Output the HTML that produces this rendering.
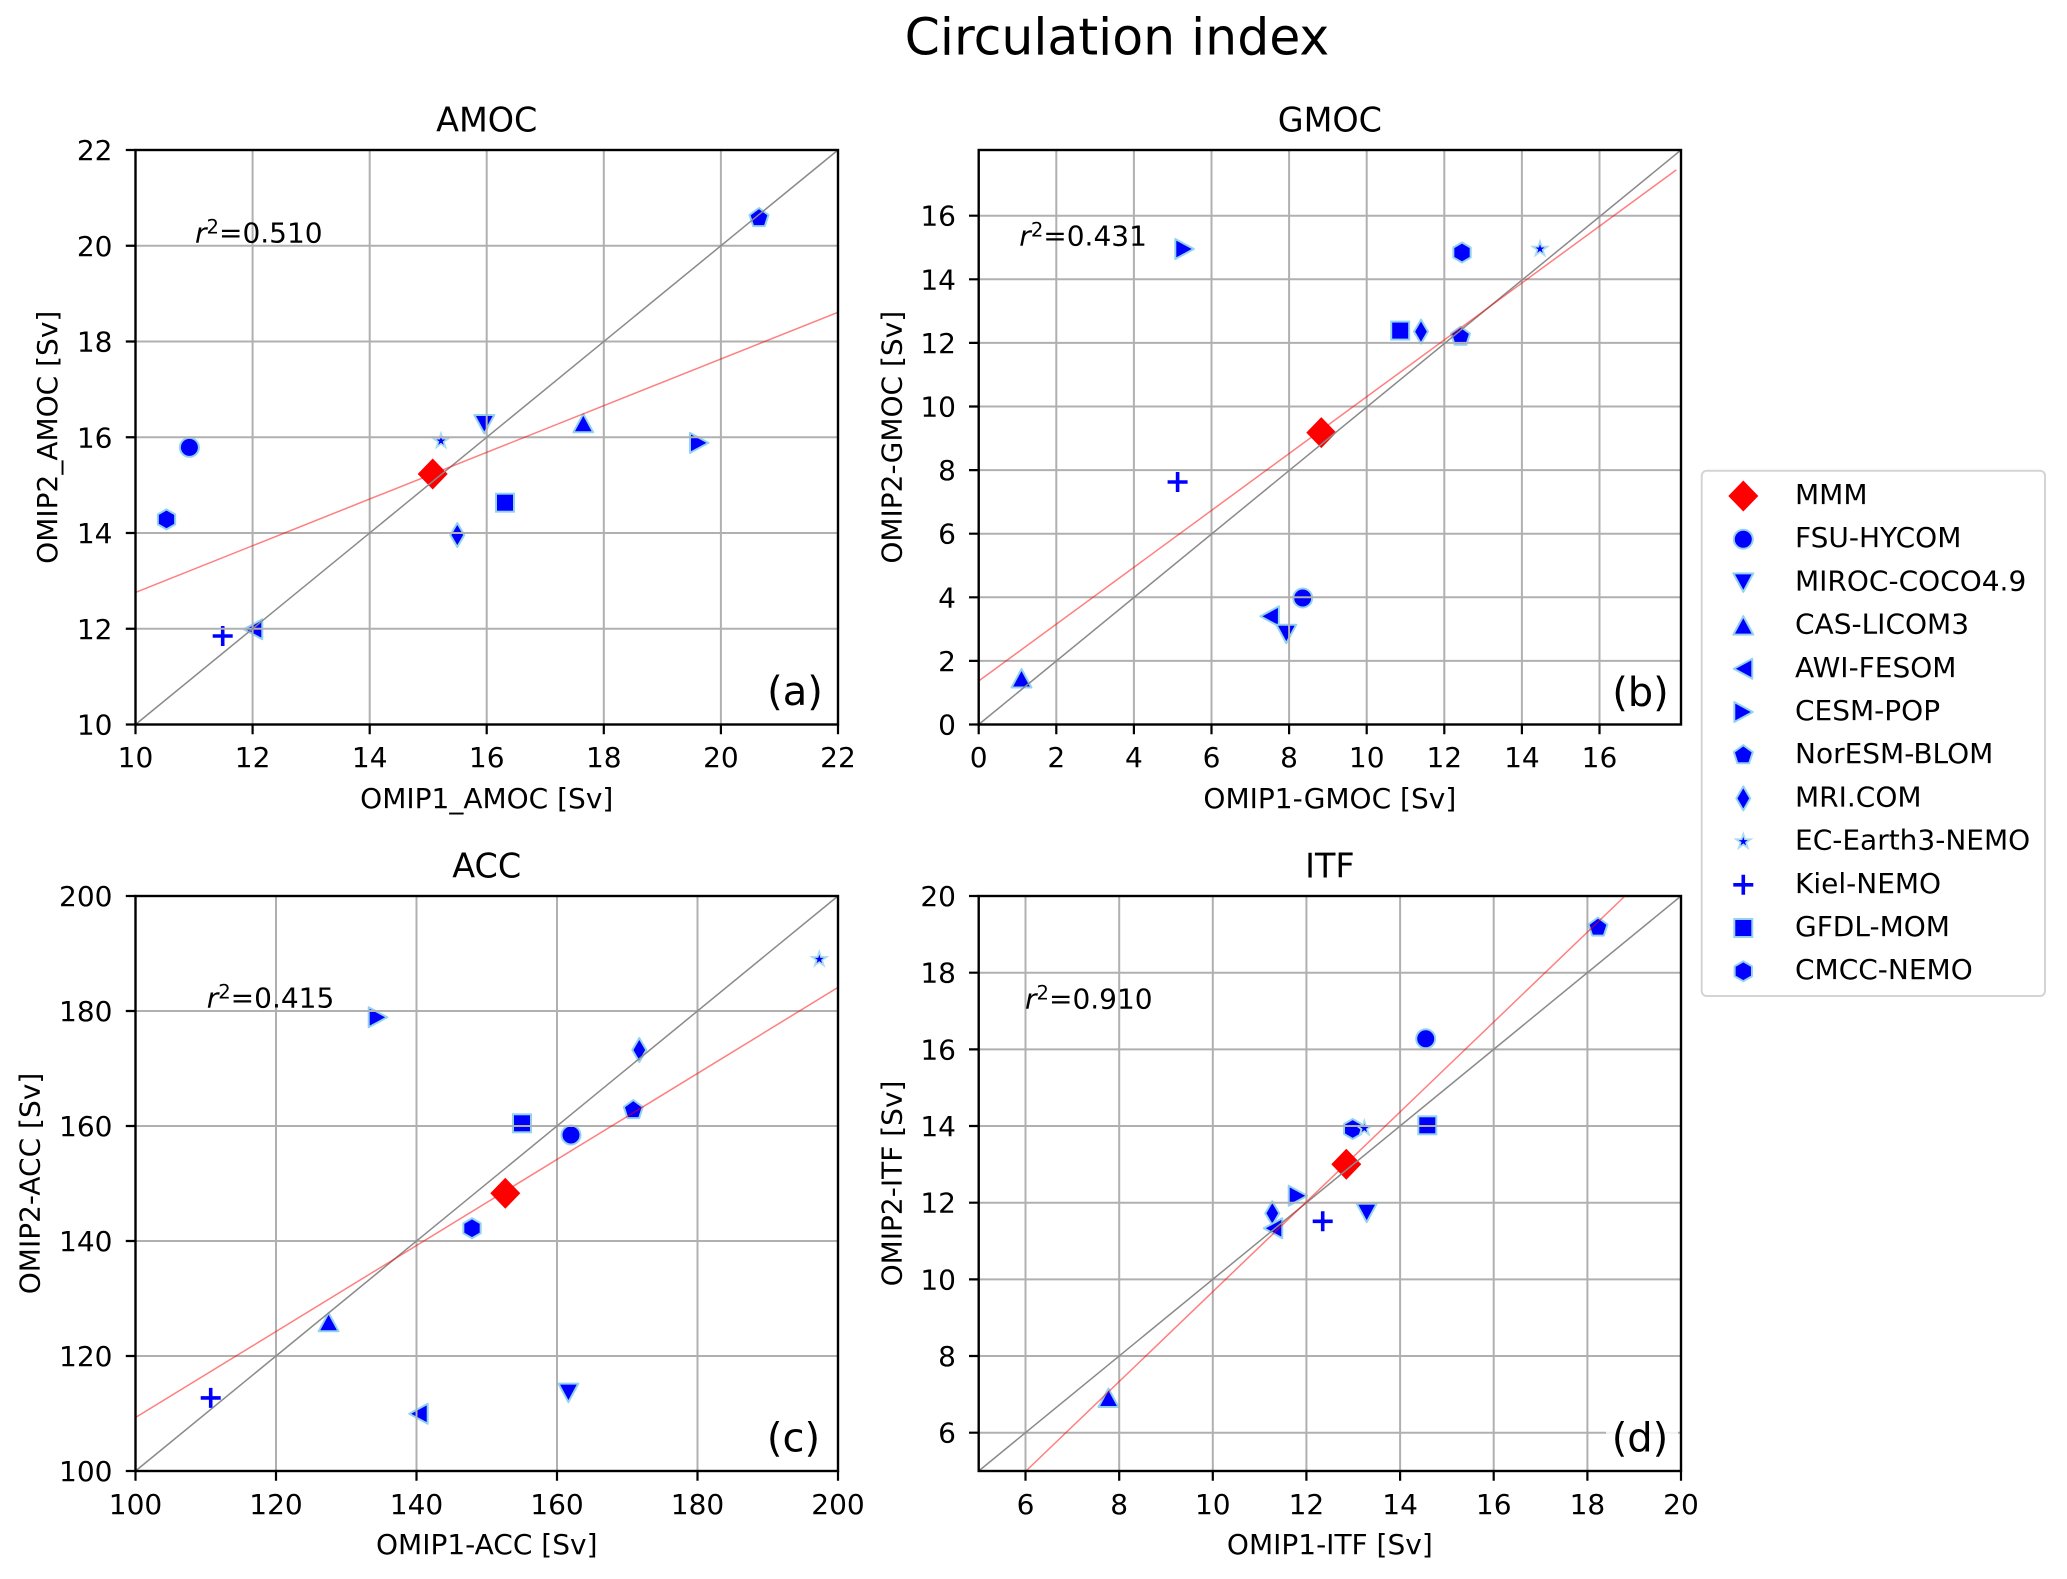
<!DOCTYPE html>
<html>
<head>
<meta charset="utf-8">
<style>
html,body{margin:0;padding:0;background:#fff;}
svg{display:block;}
text{font-family:"DejaVu Sans","Liberation Sans",sans-serif;fill:#000;}
.tk{font-size:28px;}
.lab{font-size:28px;}
.ttl{font-size:33.4px;}
.pl{font-size:40px;}
.lg{font-size:28px;}
</style>
</head>
<body>
<svg width="2067" height="1579" viewBox="0 0 2067 1579" xmlns="http://www.w3.org/2000/svg">
<defs>
  <g id="mD"><path d="M0,-15.5 L15,0 L0,15.5 L-15,0 Z" fill="#ff0000"/></g>
  <g id="mo"><circle r="9.5" fill="#0000ff" stroke="#93d3ef" stroke-width="2"/></g>
  <g id="mdn"><path d="M-10,-9 L10,-9 L0,9.5 Z" fill="#0000ff" stroke="#93d3ef" stroke-width="2" stroke-linejoin="round"/></g>
  <g id="mup"><path d="M0,-9.5 L10,9 L-10,9 Z" fill="#0000ff" stroke="#93d3ef" stroke-width="2" stroke-linejoin="round"/></g>
  <g id="mlt"><path d="M-9.5,0 L9,-10 L9,10 Z" fill="#0000ff" stroke="#93d3ef" stroke-width="2" stroke-linejoin="round"/></g>
  <g id="mrt"><path d="M9.5,0 L-9,-10 L-9,10 Z" fill="#0000ff" stroke="#93d3ef" stroke-width="2" stroke-linejoin="round"/></g>
  <g id="mp"><path d="M0,-10 L9.51,-3.09 L5.88,8.09 L-5.88,8.09 L-9.51,-3.09 Z" fill="#0000ff" stroke="#93d3ef" stroke-width="2" stroke-linejoin="round"/></g>
  <g id="md"><path d="M0,-12 L7,0 L0,12 L-7,0 Z" fill="#0000ff" stroke="#93d3ef" stroke-width="2" stroke-linejoin="round"/></g>
  <g id="mstar">
    <path d="M0,-10.5 L2.351,-3.236 L9.986,-3.245 L3.804,1.236 L6.172,8.495 L0,4 L-6.172,8.495 L-3.804,1.236 L-9.986,-3.245 L-2.351,-3.236 Z" fill="#a8dcf2"/>
    <path transform="scale(0.45)" d="M0,-10.5 L2.351,-3.236 L9.986,-3.245 L3.804,1.236 L6.172,8.495 L0,4 L-6.172,8.495 L-3.804,1.236 L-9.986,-3.245 L-2.351,-3.236 Z" fill="#0000ff"/>
  </g>
  <g id="mplus"><path d="M-10,0 L10,0 M0,-10 L0,10" stroke="#0000ff" stroke-width="3.6" fill="none"/></g>
  <g id="ms"><rect x="-9" y="-9" width="18" height="18" fill="#0000ff" stroke="#93d3ef" stroke-width="2"/></g>
  <g id="mh"><path d="M0,-10 L8.66,-5 L8.66,5 L0,10 L-8.66,5 L-8.66,-5 Z" fill="#0000ff" stroke="#93d3ef" stroke-width="2" stroke-linejoin="round"/></g>
</defs>

<!-- Suptitle -->
<text x="1117" y="54.5" text-anchor="middle" style="font-size:50.5px">Circulation index</text>

<!-- ================= Panel A ================= -->
<text class="ttl" x="486.75" y="131.6" text-anchor="middle">AMOC</text>
<g>
  <use href="#mp" x="759" y="218"/>
  <use href="#mo" x="189.4" y="447.4"/>
  <use href="#mh" x="166.5" y="519.4"/>
  <use href="#mplus" x="222.7" y="636"/>
  <use href="#mlt" x="253.3" y="629.3"/>
  <use href="#mstar" x="441" y="441"/>
  <use href="#mdn" x="484.3" y="424"/>
  <use href="#ms" x="505" y="502.7"/>
  <use href="#md" x="457.3" y="535"/>
  <use href="#mup" x="583.3" y="423.3"/>
  <use href="#mrt" x="699" y="442.9"/>
  <use href="#mD" x="432.7" y="474"/>
</g>
<g stroke="#b0b0b0" stroke-width="2">
  <path d="M252.6,150V724.5 M369.7,150V724.5 M486.7,150V724.5 M603.8,150V724.5 M720.9,150V724.5"/>
  <path d="M135.5,628.75H838 M135.5,533H838 M135.5,437.25H838 M135.5,341.5H838 M135.5,245.75H838"/>
</g>
<line x1="135.5" y1="724.5" x2="838" y2="150" stroke="#8a8a8a" stroke-width="1.5"/>
<line x1="135.5" y1="592.4" x2="838" y2="312.3" stroke="#ff0000" stroke-opacity="0.5" stroke-width="1.5"/>
<rect x="135.5" y="150" width="702.5" height="574.5" fill="none" stroke="#000" stroke-width="2.4"/>
<g stroke="#000" stroke-width="2.2">
  <path d="M135.5,724.5v9.7 M252.6,724.5v9.7 M369.7,724.5v9.7 M486.7,724.5v9.7 M603.8,724.5v9.7 M720.9,724.5v9.7 M838,724.5v9.7"/>
  <path d="M125.8,724.5h9.7 M125.8,628.75h9.7 M125.8,533h9.7 M125.8,437.25h9.7 M125.8,341.5h9.7 M125.8,245.75h9.7 M125.8,150h9.7"/>
</g>
<g class="tk" text-anchor="middle">
  <text x="135.5" y="767">10</text><text x="252.6" y="767">12</text><text x="369.7" y="767">14</text>
  <text x="486.7" y="767">16</text><text x="603.8" y="767">18</text><text x="720.9" y="767">20</text><text x="838" y="767">22</text>
</g>
<g class="tk" text-anchor="end">
  <text x="112.5" y="734.5">10</text><text x="112.5" y="638.75">12</text><text x="112.5" y="543">14</text>
  <text x="112.5" y="447.25">16</text><text x="112.5" y="351.5">18</text><text x="112.5" y="255.75">20</text><text x="112.5" y="160">22</text>
</g>
<text class="lab" x="486.75" y="808" text-anchor="middle">OMIP1_AMOC [Sv]</text>
<text class="lab" transform="translate(57,437.25) rotate(-90)" text-anchor="middle">OMIP2_AMOC [Sv]</text>
<text class="lab" x="195" y="242.3"><tspan font-style="italic">r</tspan><tspan font-size="19.6" dy="-9">2</tspan><tspan dy="9">=0.510</tspan></text>
<text class="pl" x="795" y="705" text-anchor="middle">(a)</text>

<!-- ================= Panel B ================= -->
<text class="ttl" x="1329.85" y="131.6" text-anchor="middle">GMOC</text>
<g>
  <use href="#mrt" x="1184.3" y="249"/>
  <use href="#mh" x="1462" y="252.5"/>
  <use href="#mstar" x="1540" y="249"/>
  <use href="#ms" x="1400.2" y="330.6"/>
  <use href="#md" x="1421" y="331.6"/>
  <use href="#mp" x="1460.5" y="336.7"/>
  <use href="#mplus" x="1177.6" y="482"/>
  <use href="#mo" x="1302.7" y="598"/>
  <use href="#mlt" x="1269.9" y="616.3"/>
  <use href="#mdn" x="1286.3" y="633.7"/>
  <use href="#mup" x="1021.5" y="678.5"/>
  <use href="#mD" x="1321.3" y="432.6"/>
</g>
<g stroke="#b0b0b0" stroke-width="2">
  <path d="M1056.3,150V724.5 M1133.9,150V724.5 M1211.5,150V724.5 M1289.1,150V724.5 M1366.7,150V724.5 M1444.3,150V724.5 M1521.9,150V724.5 M1599.5,150V724.5"/>
  <path d="M978.7,660.9H1681 M978.7,597.3H1681 M978.7,533.7H1681 M978.7,470.1H1681 M978.7,406.5H1681 M978.7,342.9H1681 M978.7,279.3H1681 M978.7,215.7H1681"/>
</g>
<line x1="978.7" y1="724.5" x2="1681" y2="150" stroke="#8a8a8a" stroke-width="1.5"/>
<line x1="978.7" y1="681" x2="1676.3" y2="169.9" stroke="#ff0000" stroke-opacity="0.5" stroke-width="1.5"/>
<rect x="978.7" y="150" width="702.3" height="574.5" fill="none" stroke="#000" stroke-width="2.4"/>
<g stroke="#000" stroke-width="2.2">
  <path d="M978.7,724.5v9.7 M1056.3,724.5v9.7 M1133.9,724.5v9.7 M1211.5,724.5v9.7 M1289.1,724.5v9.7 M1366.7,724.5v9.7 M1444.3,724.5v9.7 M1521.9,724.5v9.7 M1599.5,724.5v9.7"/>
  <path d="M969,724.5h9.7 M969,660.9h9.7 M969,597.3h9.7 M969,533.7h9.7 M969,470.1h9.7 M969,406.5h9.7 M969,342.9h9.7 M969,279.3h9.7 M969,215.7h9.7"/>
</g>
<g class="tk" text-anchor="middle">
  <text x="978.7" y="767">0</text><text x="1056.3" y="767">2</text><text x="1133.9" y="767">4</text>
  <text x="1211.5" y="767">6</text><text x="1289.1" y="767">8</text><text x="1366.7" y="767">10</text>
  <text x="1444.3" y="767">12</text><text x="1521.9" y="767">14</text><text x="1599.5" y="767">16</text>
</g>
<g class="tk" text-anchor="end">
  <text x="956" y="734.5">0</text><text x="956" y="670.9">2</text><text x="956" y="607.3">4</text>
  <text x="956" y="543.7">6</text><text x="956" y="480.1">8</text><text x="956" y="416.5">10</text>
  <text x="956" y="352.9">12</text><text x="956" y="289.3">14</text><text x="956" y="225.7">16</text>
</g>
<text class="lab" x="1329.85" y="808" text-anchor="middle">OMIP1-GMOC [Sv]</text>
<text class="lab" transform="translate(901.5,437.25) rotate(-90)" text-anchor="middle">OMIP2-GMOC [Sv]</text>
<text class="lab" x="1019.3" y="245.7"><tspan font-style="italic">r</tspan><tspan font-size="19.6" dy="-9">2</tspan><tspan dy="9">=0.431</tspan></text>
<text class="pl" x="1640.5" y="706" text-anchor="middle">(b)</text>

<!-- ================= Panel C ================= -->
<text class="ttl" x="486.75" y="877.3" text-anchor="middle">ACC</text>
<g>
  <use href="#mstar" x="819.3" y="959.3"/>
  <use href="#mrt" x="377.7" y="1017.3"/>
  <use href="#md" x="639.3" y="1050"/>
  <use href="#mp" x="633.3" y="1110"/>
  <use href="#ms" x="522" y="1123.3"/>
  <use href="#mo" x="571" y="1135"/>
  <use href="#mh" x="472" y="1228.3"/>
  <use href="#mup" x="328.6" y="1322.3"/>
  <use href="#mplus" x="210.7" y="1397.9"/>
  <use href="#mlt" x="418.7" y="1413.8"/>
  <use href="#mdn" x="568.4" y="1392.6"/>
  <use href="#mD" x="505.3" y="1193.3"/>
</g>
<g stroke="#b0b0b0" stroke-width="2">
  <path d="M276,896V1471 M416.5,896V1471 M557,896V1471 M697.5,896V1471"/>
  <path d="M135.5,1356H838 M135.5,1241H838 M135.5,1126H838 M135.5,1011H838"/>
</g>
<line x1="135.5" y1="1471" x2="838" y2="896" stroke="#8a8a8a" stroke-width="1.5"/>
<line x1="135.5" y1="1417.5" x2="838" y2="987.4" stroke="#ff0000" stroke-opacity="0.5" stroke-width="1.5"/>
<rect x="135.5" y="896" width="702.5" height="575" fill="none" stroke="#000" stroke-width="2.4"/>
<g stroke="#000" stroke-width="2.2">
  <path d="M135.5,1471v9.7 M276,1471v9.7 M416.5,1471v9.7 M557,1471v9.7 M697.5,1471v9.7 M838,1471v9.7"/>
  <path d="M125.8,1471h9.7 M125.8,1356h9.7 M125.8,1241h9.7 M125.8,1126h9.7 M125.8,1011h9.7 M125.8,896h9.7"/>
</g>
<g class="tk" text-anchor="middle">
  <text x="135.5" y="1514">100</text><text x="276" y="1514">120</text><text x="416.5" y="1514">140</text>
  <text x="557" y="1514">160</text><text x="697.5" y="1514">180</text><text x="838" y="1514">200</text>
</g>
<g class="tk" text-anchor="end">
  <text x="112.5" y="1481">100</text><text x="112.5" y="1366">120</text><text x="112.5" y="1251">140</text>
  <text x="112.5" y="1136">160</text><text x="112.5" y="1021">180</text><text x="112.5" y="906">200</text>
</g>
<text class="lab" x="486.75" y="1554" text-anchor="middle">OMIP1-ACC [Sv]</text>
<text class="lab" transform="translate(39.5,1183.5) rotate(-90)" text-anchor="middle">OMIP2-ACC [Sv]</text>
<text class="lab" x="206.7" y="1007.3"><tspan font-style="italic">r</tspan><tspan font-size="19.6" dy="-9">2</tspan><tspan dy="9">=0.415</tspan></text>
<text class="pl" x="793.5" y="1451.5" text-anchor="middle">(c)</text>

<!-- ================= Panel D ================= -->
<text class="ttl" x="1329.85" y="877.3" text-anchor="middle">ITF</text>
<g>
  <use href="#mp" x="1598" y="927.5"/>
  <use href="#mo" x="1425.7" y="1038.8"/>
  <use href="#mh" x="1352.7" y="1129"/>
  <use href="#mstar" x="1364.3" y="1128.3"/>
  <use href="#ms" x="1427.3" y="1125.3"/>
  <use href="#mrt" x="1297.7" y="1195.7"/>
  <use href="#md" x="1272.3" y="1213.3"/>
  <use href="#mlt" x="1273.3" y="1228.3"/>
  <use href="#mplus" x="1322.7" y="1221.3"/>
  <use href="#mdn" x="1366.7" y="1212.7"/>
  <use href="#mup" x="1108.5" y="1398"/>
  <use href="#mD" x="1346.3" y="1164.3"/>
</g>
<g stroke="#b0b0b0" stroke-width="2">
  <path d="M1025.5,896V1471 M1119.2,896V1471 M1212.8,896V1471 M1306.4,896V1471 M1400.1,896V1471 M1493.7,896V1471 M1587.4,896V1471"/>
  <path d="M978.7,1432.7H1681 M978.7,1356H1681 M978.7,1279.4H1681 M978.7,1202.7H1681 M978.7,1126H1681 M978.7,1049.4H1681 M978.7,972.7H1681"/>
</g>
<line x1="978.7" y1="1471" x2="1681" y2="896" stroke="#8a8a8a" stroke-width="1.5"/>
<line x1="1026" y1="1471" x2="1625" y2="896" stroke="#ff0000" stroke-opacity="0.5" stroke-width="1.5"/>
<rect x="1606" y="1406" width="72" height="56" fill="#fff" fill-opacity="0.82"/>
<rect x="978.7" y="896" width="702.3" height="575" fill="none" stroke="#000" stroke-width="2.4"/>
<g stroke="#000" stroke-width="2.2">
  <path d="M1025.5,1471v9.7 M1119.2,1471v9.7 M1212.8,1471v9.7 M1306.4,1471v9.7 M1400.1,1471v9.7 M1493.7,1471v9.7 M1587.4,1471v9.7 M1681,1471v9.7"/>
  <path d="M969,1432.7h9.7 M969,1356h9.7 M969,1279.4h9.7 M969,1202.7h9.7 M969,1126h9.7 M969,1049.4h9.7 M969,972.7h9.7 M969,896h9.7"/>
</g>
<g class="tk" text-anchor="middle">
  <text x="1025.5" y="1514">6</text><text x="1119.2" y="1514">8</text><text x="1212.8" y="1514">10</text>
  <text x="1306.4" y="1514">12</text><text x="1400.1" y="1514">14</text><text x="1493.7" y="1514">16</text>
  <text x="1587.4" y="1514">18</text><text x="1681" y="1514">20</text>
</g>
<g class="tk" text-anchor="end">
  <text x="956" y="1442.7">6</text><text x="956" y="1366">8</text><text x="956" y="1289.4">10</text>
  <text x="956" y="1212.7">12</text><text x="956" y="1136">14</text><text x="956" y="1059.4">16</text>
  <text x="956" y="982.7">18</text><text x="956" y="906">20</text>
</g>
<text class="lab" x="1329.85" y="1554" text-anchor="middle">OMIP1-ITF [Sv]</text>
<text class="lab" transform="translate(901.5,1183.5) rotate(-90)" text-anchor="middle">OMIP2-ITF [Sv]</text>
<text class="lab" x="1025" y="1008.3"><tspan font-style="italic">r</tspan><tspan font-size="19.6" dy="-9">2</tspan><tspan dy="9">=0.910</tspan></text>
<text class="pl" x="1640" y="1451.5" text-anchor="middle">(d)</text>

<!-- ================= Legend ================= -->
<rect x="1701.7" y="470.7" width="343.3" height="525.3" rx="5" ry="5" fill="#fff" stroke="#d4d4d4" stroke-width="2"/>
<g>
  <use href="#mD" x="1743.3" y="496"/>
  <use href="#mo" x="1743.3" y="539.2"/>
  <use href="#mdn" x="1743.3" y="582.4"/>
  <use href="#mup" x="1743.3" y="625.6"/>
  <use href="#mlt" x="1743.3" y="668.8"/>
  <use href="#mrt" x="1743.3" y="712"/>
  <use href="#mp" x="1743.3" y="755.2"/>
  <use href="#md" x="1743.3" y="798.4"/>
  <use href="#mstar" x="1743.3" y="841.6"/>
  <use href="#mplus" x="1743.3" y="884.8"/>
  <use href="#ms" x="1743.3" y="928"/>
  <use href="#mh" x="1743.3" y="971.2"/>
</g>
<g class="lg">
  <text x="1795" y="504">MMM</text>
  <text x="1795" y="547.2">FSU-HYCOM</text>
  <text x="1795" y="590.4">MIROC-COCO4.9</text>
  <text x="1795" y="633.6">CAS-LICOM3</text>
  <text x="1795" y="676.8">AWI-FESOM</text>
  <text x="1795" y="720">CESM-POP</text>
  <text x="1795" y="763.2">NorESM-BLOM</text>
  <text x="1795" y="806.4">MRI.COM</text>
  <text x="1795" y="849.6">EC-Earth3-NEMO</text>
  <text x="1795" y="892.8">Kiel-NEMO</text>
  <text x="1795" y="936">GFDL-MOM</text>
  <text x="1795" y="979.2">CMCC-NEMO</text>
</g>
</svg>
</body>
</html>
